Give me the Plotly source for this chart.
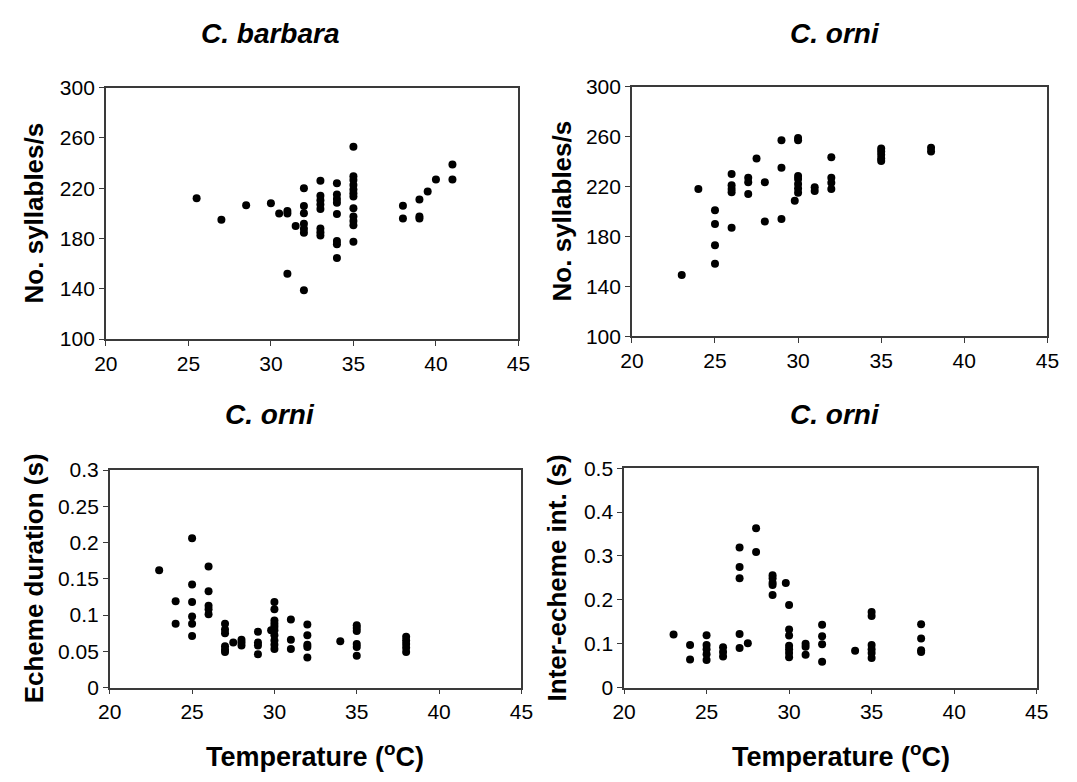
import plotly.graph_objects as go

# C. barbara: syllable rate vs temperature
barbara_temp = [25.5, 27, 28.5, 30, 30.5, 31, 31, 31, 31.5,
                32, 32, 32, 32, 32, 32, 32,
                33, 33, 33, 33, 33, 33, 33, 33,
                34, 34, 34, 34, 34, 34, 34, 34,
                35, 35, 35, 35, 35, 35, 35, 35, 35, 35, 35, 35,
                38, 38, 39, 39, 39, 39.5, 40, 41, 41]
barbara_syl = [212, 195, 206.5, 208, 200, 202, 200, 152, 190,
               220, 205.8, 200.2, 191.7, 187.8, 184.7, 138.8,
               226, 214, 210.5, 207, 203.5, 188, 185, 182.5,
               224, 215, 211.5, 208.5, 199.5, 178, 175.5, 164.5,
               253, 229.5, 226.5, 222.5, 219, 216, 213.5, 204, 197.5, 194, 190.5, 177.5,
               206, 196, 211, 197.5, 196, 217.5, 227, 239, 227]

# C. orni: syllable rate vs temperature
orni_syl_temp = [23, 24, 25, 25, 25, 25, 26, 26, 26, 26, 26,
                 27, 27, 27, 27.5, 28, 28, 29, 29, 29, 29.8,
                 30, 30, 30, 30, 30, 30, 30, 31, 31,
                 32, 32, 32, 32, 35, 35, 35, 35, 35, 38, 38]
orni_syl = [149, 218, 201, 190, 173, 158, 230, 221, 218, 215.5, 187,
            227, 223.5, 214, 242.5, 223.5, 192, 257, 235, 194, 208.5,
            259, 257, 228.5, 226, 222, 218.5, 215, 219.5, 216.5,
            243.5, 227, 223, 218, 250.5, 248, 245.5, 242.5, 240.5, 251, 248]

# C. orni: echeme duration vs temperature
orni_dur_temp = [23, 24, 24, 25, 25, 25, 25, 25, 25, 26, 26, 26, 26, 26,
                 27, 27, 27, 27, 27, 27, 27.5, 28, 28, 28, 29, 29, 29, 29, 29.8,
                 30, 30, 30, 30, 30, 30, 30, 30, 30, 30, 31, 31, 31,
                 32, 32, 32, 32, 32, 34, 35, 35, 35, 35, 35, 35,
                 38, 38, 38, 38, 38]
orni_dur = [0.162, 0.119, 0.088, 0.206, 0.142, 0.118, 0.098, 0.088, 0.071,
            0.167, 0.133, 0.113, 0.108, 0.101,
            0.088, 0.080, 0.075, 0.057, 0.052, 0.049, 0.062, 0.066, 0.062, 0.058,
            0.077, 0.062, 0.058, 0.046, 0.079,
            0.118, 0.108, 0.0925, 0.088, 0.084, 0.079, 0.072, 0.065, 0.059, 0.053,
            0.094, 0.066, 0.053, 0.087, 0.072, 0.059, 0.056, 0.0415, 0.064,
            0.086, 0.082, 0.078, 0.060, 0.056, 0.044,
            0.070, 0.065, 0.060, 0.055, 0.049]

# C. orni: inter-echeme interval vs temperature
orni_int_temp = [23, 24, 24, 25, 25, 25, 25, 25, 26, 26, 26,
                 27, 27, 27, 27, 27, 27.5, 28, 28, 29, 29, 29, 29, 29, 29.8,
                 30, 30, 30, 30, 30, 30, 30, 31, 31, 31, 32, 32, 32, 32, 34,
                 35, 35, 35, 35, 35, 35, 38, 38, 38, 38]
orni_int = [0.121, 0.097, 0.064, 0.119, 0.097, 0.087, 0.076, 0.063, 0.092, 0.081, 0.071,
            0.319, 0.275, 0.249, 0.122, 0.090, 0.101, 0.363, 0.309,
            0.256, 0.249, 0.239, 0.234, 0.211, 0.238,
            0.188, 0.132, 0.1185, 0.095, 0.087, 0.0785, 0.069,
            0.100, 0.093, 0.075, 0.143, 0.117, 0.0985, 0.059, 0.084,
            0.172, 0.163, 0.097, 0.087, 0.0785, 0.0675,
            0.144, 0.112, 0.085, 0.081]

W, H = 1077, 782
FONT = "Liberation Sans, Arial, sans-serif"
LINE = "#3a3a3a"

# plot-area boxes in pixels: (left, right, top, bottom)
boxes = {
    "1": (96, 518, 78, 337),
    "2": (634, 1059, 77, 334),
    "3": (100, 521, 472, 696),
    "4": (626, 1048, 470, 696),
}

def dom(b):
    l, r, t, bt = b
    return [l / W, r / W], [1 - bt / H, 1 - t / H]

fig = go.Figure()
series = [
    ("1", barbara_temp, barbara_syl),
    ("2", orni_syl_temp, orni_syl),
    ("3", orni_dur_temp, orni_dur),
    ("4", orni_int_temp, orni_int),
]
for k, xs, ys in series:
    fig.add_trace(go.Scatter(
        x=xs, y=ys, mode="markers",
        marker=dict(size=8, color="black"),
        xaxis="x" + ("" if k == "1" else k),
        yaxis="y" + ("" if k == "1" else k),
        showlegend=False, hoverinfo="skip"))

# (range, tick step, first tick)
yranges = {"1": ([100, 300], 40, 100), "2": ([100, 300], 40, 100),
           "3": ([0, 0.3], 0.05, 0), "4": ([0, 0.5], 0.1, 0)}
layout = {}
for k, b in boxes.items():
    xd, yd = dom(b)
    suf = "" if k == "1" else k
    common = dict(showline=True, linecolor=LINE, linewidth=1.5, mirror=True,
                  ticks="outside", ticklen=5, tickwidth=1.2, tickcolor=LINE,
                  showgrid=False, zeroline=False,
                  tickfont=dict(family=FONT, size=21, color="black"))
    layout["xaxis" + suf] = dict(domain=xd, range=[20, 45], dtick=5, tick0=20,
                                 anchor="y" + suf, **common)
    yr, dt, t0 = yranges[k]
    layout["yaxis" + suf] = dict(domain=yd, range=yr, dtick=dt, tick0=t0,
                                 anchor="x" + suf, **common)

fig.update_layout(**layout)

def ann(text, px, py, size, angle=0, italic=False):
    t = "<b><i>%s</i></b>" % text if italic else "<b>%s</b>" % text
    fig.add_annotation(text=t, x=px / W, y=1 - py / H, xref="paper", yref="paper",
                       showarrow=False, textangle=angle, xanchor="center", yanchor="middle",
                       font=dict(family=FONT, size=size, color="black"))

# panel titles
ann("C. barbara", 264, 22, 28, italic=True)
ann("C. orni", 842, 22, 28, italic=True)
ann("C. orni", 264, 415, 28, italic=True)
ann("C. orni", 842, 415, 28, italic=True)

# y-axis titles
ann("No. syllables/s", 22, 207, 26, angle=-90)
ann("No. syllables/s", 563, 205, 26, angle=-90)
ann("Echeme duration (s)", 22, 584, 26, angle=-90)
ann("Inter-echeme int. (s)", 557, 583, 26, angle=-90)

# x-axis titles
ann("Temperature (<sup>o</sup>C)", 310, 766, 27)
ann("Temperature (<sup>o</sup>C)", 848, 766, 27)

fig.update_layout(width=W, height=H, margin=dict(l=0, r=0, t=0, b=0),
                  paper_bgcolor="white", plot_bgcolor="white")
fig.write_html("out.html")
